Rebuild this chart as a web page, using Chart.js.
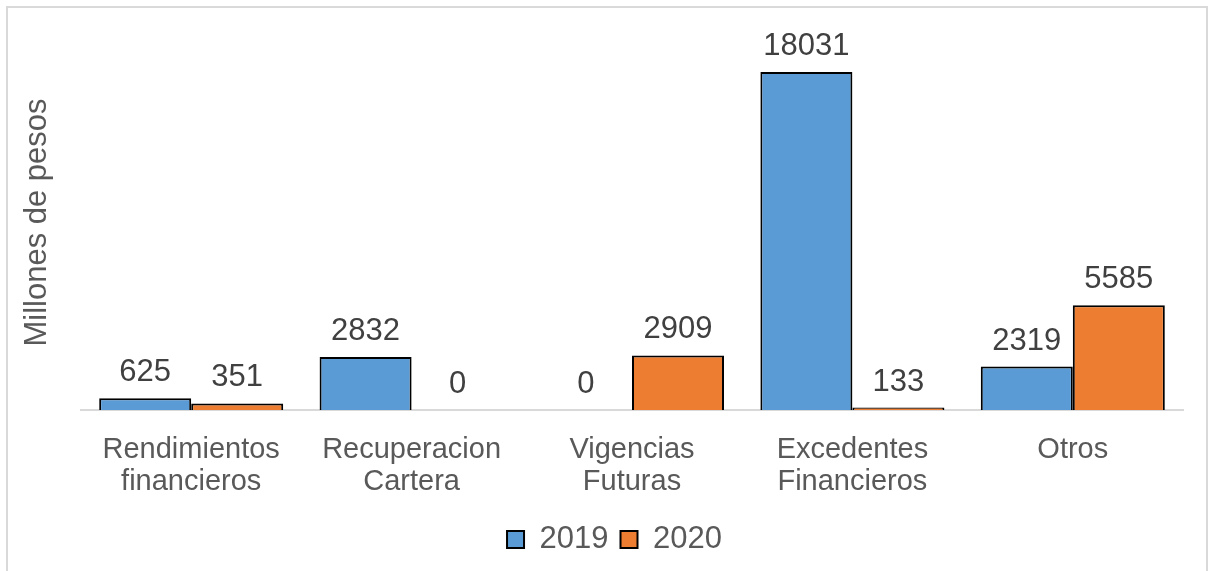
<!DOCTYPE html>
<html>
<head>
<meta charset="utf-8">
<script src="https://cdn.jsdelivr.net/npm/chart.js@4"></script>
<style>
  html, body { margin: 0; padding: 0; background: #fff; }
  #wrap { position: relative; width: 1209px; height: 571px; overflow: hidden; }
  #frame { position: absolute; left: 6px; top: 6px; width: 1198px; height: 600px; border: 2px solid #d9d9d9; }
  canvas { position: absolute; left: 0; top: 0; }
</style>
</head>
<body>
<div id="wrap">
  <div id="frame"></div>
  <canvas id="chart" width="1209" height="571"></canvas>
</div>
<script>
// Chart data
const categories = [
  ["Rendimientos", "financieros"],
  ["Recuperacion", "Cartera"],
  ["Vigencias", "Futuras"],
  ["Excedentes", "Financieros"],
  ["Otros"],
];
const values2019 = [625, 2832, 0, 18031, 2319];
const values2020 = [351, 0, 2909, 133, 5585];
const seriesNames = ["2019", "2020"];

const FONT = "'Liberation Sans', Arial, sans-serif";

// draws the value above each bar
const valueLabels = {
  id: "valueLabels",
  afterDatasetsDraw(chart) {
    const ctx = chart.ctx;
    ctx.save();
    ctx.font = "31px " + FONT;
    ctx.fillStyle = "#404040";
    ctx.textAlign = "center";
    ctx.textBaseline = "alphabetic";
    chart.data.datasets.forEach((ds, i) => {
      chart.getDatasetMeta(i).data.forEach((bar, j) => {
        ctx.fillText(String(ds.data[j]), bar.x, bar.y - 17);
      });
    });
    ctx.restore();
  },
};

new Chart(document.getElementById("chart"), {
  type: "bar",
  data: {
    labels: categories,
    datasets: [
      {
        label: seriesNames[0],
        data: values2019,
        backgroundColor: "#5B9BD5",
        borderColor: "#000000",
        borderWidth: 2,
        borderSkipped: "bottom",
      },
      {
        label: seriesNames[1],
        data: values2020,
        backgroundColor: "#ED7D31",
        borderColor: "#000000",
        borderWidth: 2,
        borderSkipped: "bottom",
      },
    ],
  },
  options: {
    responsive: false,
    animation: false,
    categoryPercentage: 0.835,
    barPercentage: 1.0,
    layout: { padding: { left: 46, right: 26, top: 35, bottom: 6 } },
    plugins: {
      legend: {
        position: "bottom",
        labels: {
          font: { family: FONT, size: 31 },
          color: "#595959",
          boxWidth: 17,
          boxHeight: 17,
          padding: 12,
          generateLabels(chart) {
            return chart.data.datasets.map((ds, i) => ({
              text: ds.label,
              fillStyle: ds.backgroundColor,
              strokeStyle: "#000000",
              lineWidth: 2,
              fontColor: "#595959",
              datasetIndex: i,
            }));
          },
        },
      },
      tooltip: { enabled: false },
    },
    scales: {
      x: {
        grid: { display: false },
        border: { color: "#d9d9d9", width: 2 },
        ticks: {
          font: { family: FONT, size: 29, lineHeight: 1.1 },
          color: "#595959",
          padding: 16,
          maxRotation: 0,
          autoSkip: false,
        },
        afterFit(scale) { scale.height = 102; },
      },
      y: {
        min: 0,
        max: 20000,
        grid: { display: false },
        border: { display: false },
        ticks: { display: false },
        title: {
          display: true,
          text: "Millones de pesos",
          font: { family: FONT, size: 31 },
          color: "#595959",
          padding: { top: -27, bottom: 0 },
        },
        afterFit(scale) { scale.width = 35; },
      },
    },
  },
  plugins: [valueLabels],
});
</script>
</body>
</html>
